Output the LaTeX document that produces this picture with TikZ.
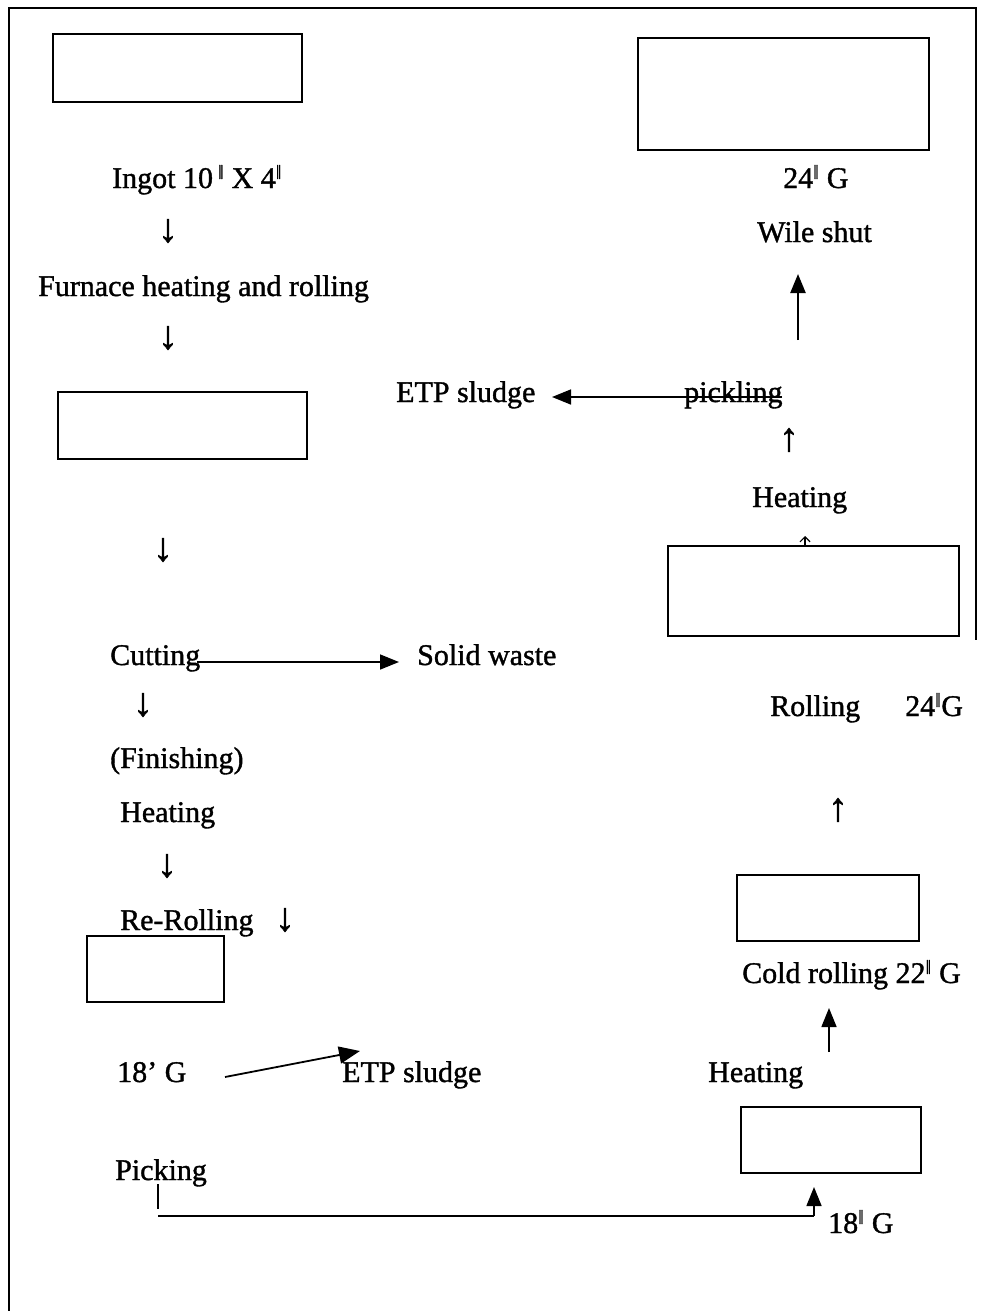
\documentclass[tikz,border=0pt]{standalone}
\usepackage{fontspec}
\setmainfont{Liberation Serif}[FakeBold=1.2]
\usetikzlibrary{arrows.meta}
\tikzset{
  lbl/.style={anchor=base west, inner sep=0pt, font=\fontsize{30}{36}\selectfont},
  glyph/.style={anchor=center, inner sep=0pt, font=\fontsize{40}{44}\selectfont},
  emptybox/.style={draw, line width=1.6pt},
  flow/.style={line width=1.6pt, -{Triangle[length=19pt,width=15pt]}},
  plain/.style={line width=1.6pt},
}
\newcommand{\dq}{\textsuperscript{\fontsize{20}{20}\selectfont ǁ}}
\begin{document}
\begin{tikzpicture}[x=1pt,y=-1pt]
\useasboundingbox (0,0) rectangle (980,1311);
% frame
\draw[line width=1.4pt] (9,1311) -- (9,8) -- (976,8) -- (976,640);
% boxes
\draw[emptybox] (53,34) rectangle (302,102);
\draw[emptybox] (638,38) rectangle (929,150);
\draw[emptybox] (58,392) rectangle (307,459);
\draw[emptybox] (668,546) rectangle (959,636);
\draw[emptybox] (737,875) rectangle (919,941);
\draw[emptybox] (87,936) rectangle (224,1002);
\draw[emptybox] (741,1107) rectangle (921,1173);
% left column
\node[lbl] (ingot) at (112,188) {Ingot 10\,\dq\ X 4\dq};
\node[glyph] (d1) at (168,231) {↓};
\node[lbl] (furn) at (38,296) {Furnace heating and rolling};
\node[glyph] (d2) at (168,338) {↓};
\node[glyph] (d3) at (163,550) {↓};
\node[lbl] (cut) at (110,665) {Cutting};
\node[lbl] (solid) at (417,665) {Solid waste};
\node[glyph] (d4) at (143,705) {↓};
\node[lbl] (fin) at (110,768) {(Finishing)};
\node[lbl] (heat1) at (120,822) {Heating};
\node[glyph] (d5) at (167,866) {↓};
\node[lbl] (rer) at (120,930) {Re-Rolling};
\node[glyph] (d6) at (285,920) {↓};
\node[lbl] (g18a) at (117,1082) {18’ G};
\node[lbl] (etp2) at (342,1082) {ETP sludge};
\node[lbl] (pick) at (115,1180) {Picking};
% right column
\node[lbl] (g24a) at (783,188) {24\dq\ G};
\node[lbl] (wile) at (757,242) {Wile shut};
\node[lbl] (etp1) at (396,402) {ETP sludge};
\node[lbl] (pickl) at (684,402) {pickling};
\node[glyph] (u1) at (789,440) {↑};
\node[lbl] (heat2) at (752,507) {Heating};
\node[lbl] (roll) at (770,716) {Rolling};
\node[lbl] (g24b) at (905,716) {24\dq G};
\node[glyph] (u2) at (838,810) {↑};
\node[lbl] (cold) at (742,983) {Cold rolling 22\dq\ G};
\node[lbl] (heat3) at (708,1082) {Heating};
\node[lbl] (g18b) at (828,1233) {18\dq\ G};
% connectors
\coordinate (c1) at (197,662);
\coordinate (c2) at (399,662);
\draw[flow] (c1) -- (c2);
\coordinate (p1) at (782,397);
\coordinate (p2) at (552,397);
\draw[flow] (p1) -- (p2);
\coordinate (w1) at (798,340);
\coordinate (w2) at (798,274);
\draw[flow, line width=2.4pt] (w1) -- (w2);
\coordinate (s1) at (225,1077);
\coordinate (s2) at (360,1051);
\draw[line width=1.8pt, -{Triangle[length=21pt,width=17pt]}] (s1) -- (s2);
\coordinate (h1) at (829,1052);
\coordinate (h2) at (829,1008);
\draw[flow] (h1) -- (h2);
\coordinate (k1) at (158,1184);
\coordinate (k2) at (158,1216);
\coordinate (k3) at (814,1216);
\draw[line width=1.3pt] (k1) -- (158,1209);
\draw[plain] (k2) -- (k3);
\coordinate (k4) at (814,1187);
\draw[flow] (k3) -- (k4);
\coordinate (t1) at (805,546);
\coordinate (t2) at (805,536);
\draw[line width=1.2pt, -{Straight Barb[length=5pt,width=10pt]}] (t1) -- (t2);
\end{tikzpicture}
\end{document}
